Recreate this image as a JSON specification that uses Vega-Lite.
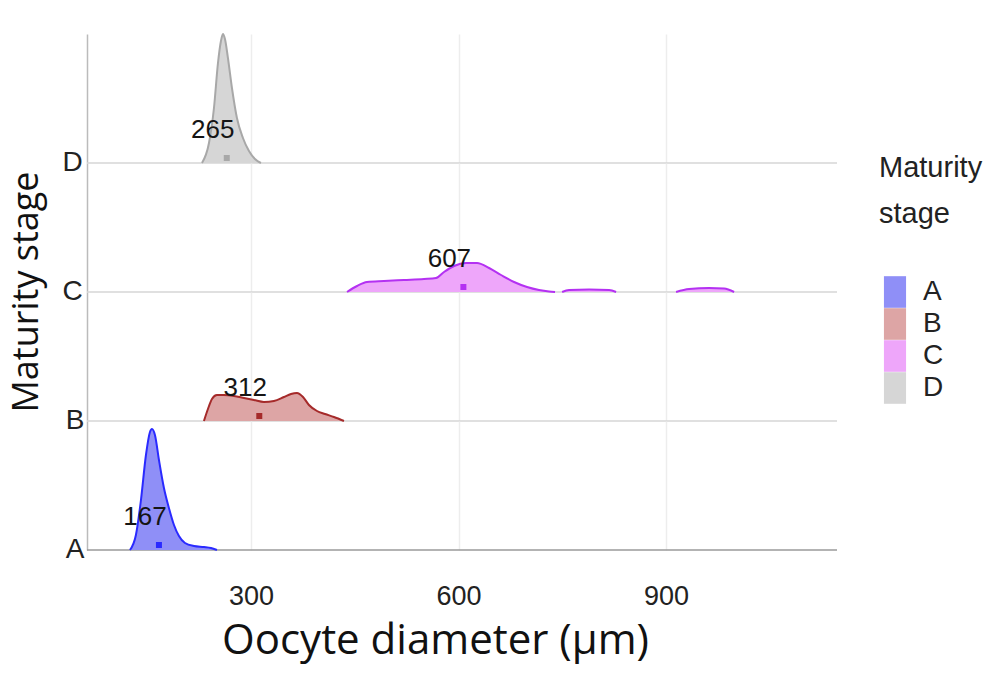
{
  "$schema": "https://vega.github.io/schema/vega-lite/v6.json",
  "padding": {"left": 8, "top": 30, "right": 5, "bottom": 5},
  "background": "white",
  "bounds": "flush",
  "datasets": {
    "all": [
      {"stage": "A", "seg": "A", "x": 125.1, "h": 0},
      {"stage": "A", "seg": "A", "x": 133.7, "h": 15},
      {"stage": "A", "seg": "A", "x": 141.0, "h": 50},
      {"stage": "A", "seg": "A", "x": 148.2, "h": 95},
      {"stage": "A", "seg": "A", "x": 154.0, "h": 118},
      {"stage": "A", "seg": "A", "x": 156.9, "h": 121},
      {"stage": "A", "seg": "A", "x": 161.2, "h": 115},
      {"stage": "A", "seg": "A", "x": 167.0, "h": 90},
      {"stage": "A", "seg": "A", "x": 174.2, "h": 62},
      {"stage": "A", "seg": "A", "x": 181.4, "h": 42},
      {"stage": "A", "seg": "A", "x": 188.7, "h": 25},
      {"stage": "A", "seg": "A", "x": 195.9, "h": 14},
      {"stage": "A", "seg": "A", "x": 204.6, "h": 7},
      {"stage": "A", "seg": "A", "x": 217.6, "h": 4},
      {"stage": "A", "seg": "A", "x": 232.0, "h": 3},
      {"stage": "A", "seg": "A", "x": 242.2, "h": 2},
      {"stage": "A", "seg": "A", "x": 250.8, "h": 0},
      {"stage": "B", "seg": "B", "x": 232.0, "h": 0},
      {"stage": "B", "seg": "B", "x": 237.8, "h": 12},
      {"stage": "B", "seg": "B", "x": 243.6, "h": 22},
      {"stage": "B", "seg": "B", "x": 250.8, "h": 26},
      {"stage": "B", "seg": "B", "x": 260.9, "h": 26},
      {"stage": "B", "seg": "B", "x": 275.4, "h": 25},
      {"stage": "B", "seg": "B", "x": 289.9, "h": 23},
      {"stage": "B", "seg": "B", "x": 304.3, "h": 21},
      {"stage": "B", "seg": "B", "x": 318.8, "h": 19},
      {"stage": "B", "seg": "B", "x": 333.2, "h": 20},
      {"stage": "B", "seg": "B", "x": 347.7, "h": 24},
      {"stage": "B", "seg": "B", "x": 357.8, "h": 27},
      {"stage": "B", "seg": "B", "x": 366.5, "h": 28},
      {"stage": "B", "seg": "B", "x": 375.2, "h": 24},
      {"stage": "B", "seg": "B", "x": 383.8, "h": 16},
      {"stage": "B", "seg": "B", "x": 395.4, "h": 10},
      {"stage": "B", "seg": "B", "x": 407.0, "h": 7},
      {"stage": "B", "seg": "B", "x": 419.9, "h": 4},
      {"stage": "B", "seg": "B", "x": 434.4, "h": 0},
      {"stage": "C", "seg": "C1", "x": 438.8, "h": 0},
      {"stage": "C", "seg": "C1", "x": 453.3, "h": 6},
      {"stage": "C", "seg": "C1", "x": 467.7, "h": 10},
      {"stage": "C", "seg": "C1", "x": 492.3, "h": 11},
      {"stage": "C", "seg": "C1", "x": 521.2, "h": 12},
      {"stage": "C", "seg": "C1", "x": 550.1, "h": 13},
      {"stage": "C", "seg": "C1", "x": 567.5, "h": 14},
      {"stage": "C", "seg": "C1", "x": 579.0, "h": 20},
      {"stage": "C", "seg": "C1", "x": 593.5, "h": 26},
      {"stage": "C", "seg": "C1", "x": 610.9, "h": 29},
      {"stage": "C", "seg": "C1", "x": 626.7, "h": 29},
      {"stage": "C", "seg": "C1", "x": 644.1, "h": 24},
      {"stage": "C", "seg": "C1", "x": 661.4, "h": 17},
      {"stage": "C", "seg": "C1", "x": 680.2, "h": 10},
      {"stage": "C", "seg": "C1", "x": 699.0, "h": 5},
      {"stage": "C", "seg": "C1", "x": 716.3, "h": 2},
      {"stage": "C", "seg": "C1", "x": 730.8, "h": 0.5},
      {"stage": "C", "seg": "C1", "x": 739.5, "h": 0},
      {"stage": "C", "seg": "C2", "x": 749.7, "h": 0},
      {"stage": "C", "seg": "C2", "x": 759.8, "h": 2},
      {"stage": "C", "seg": "C2", "x": 788.7, "h": 2.5},
      {"stage": "C", "seg": "C2", "x": 817.6, "h": 2},
      {"stage": "C", "seg": "C2", "x": 827.7, "h": 0},
      {"stage": "C", "seg": "C3", "x": 914.4, "h": 0},
      {"stage": "C", "seg": "C3", "x": 933.2, "h": 3},
      {"stage": "C", "seg": "C3", "x": 962.1, "h": 4},
      {"stage": "C", "seg": "C3", "x": 983.8, "h": 3.5},
      {"stage": "C", "seg": "C3", "x": 998.3, "h": 0},
      {"stage": "D", "seg": "D", "x": 229.2, "h": 0},
      {"stage": "D", "seg": "D", "x": 239.3, "h": 20},
      {"stage": "D", "seg": "D", "x": 246.5, "h": 55},
      {"stage": "D", "seg": "D", "x": 252.3, "h": 100},
      {"stage": "D", "seg": "D", "x": 256.6, "h": 122},
      {"stage": "D", "seg": "D", "x": 259.5, "h": 129},
      {"stage": "D", "seg": "D", "x": 262.4, "h": 124},
      {"stage": "D", "seg": "D", "x": 266.7, "h": 105},
      {"stage": "D", "seg": "D", "x": 272.5, "h": 75},
      {"stage": "D", "seg": "D", "x": 279.7, "h": 45},
      {"stage": "D", "seg": "D", "x": 288.4, "h": 25},
      {"stage": "D", "seg": "D", "x": 297.1, "h": 12},
      {"stage": "D", "seg": "D", "x": 305.8, "h": 4},
      {"stage": "D", "seg": "D", "x": 314.4, "h": 0},
      {"stage": "A", "median": 167, "label": "167"},
      {"stage": "B", "median": 312, "label": "312"},
      {"stage": "C", "median": 607, "label": "607"},
      {"stage": "D", "median": 265, "label": "265"}
    ]
  },
  "data": {"name": "all"},
  "facet": {
    "row": {
      "field": "stage",
      "type": "nominal",
      "sort": "descending",
      "title": "Maturity stage",
      "header": {
        "labelAngle": 0,
        "labelOrient": "left",
        "labelAnchor": "start",
        "labelAlign": "right",
        "labelBaseline": "middle",
        "labelFont": "Liberation Sans",
        "labelFontSize": 28,
        "labelColor": "#222",
        "labelPadding": -16,
        "titleFont": "Open Sans",
        "titleFontSize": 36,
        "titleFontWeight": "normal",
        "titleColor": "#111",
        "titlePadding": 6
      }
    }
  },
  "spacing": 0,
  "spec": {
    "width": 750,
    "height": 129,
    "layer": [
      {
        "transform": [{"filter": "datum.median != null"}],
        "mark": {"type": "rule", "strokeWidth": 1.5},
        "encoding": {
          "y": {"datum": 0},
          "color": {"condition": {"test": "datum.stage == 'A'", "value": "#9a9a9a"}, "value": "#d6d6d6"}
        }
      },
      {
        "transform": [{"filter": "datum.h != null"}],
        "mark": {"type": "area", "interpolate": "monotone"},
        "encoding": {
          "x": {
            "field": "x",
            "type": "quantitative",
            "scale": {"domain": [63, 1147], "nice": false, "zero": false},
            "axis": {
              "values": [300, 600, 900],
              "ticks": false,
              "grid": true,
              "gridColor": "#ededed",
              "gridWidth": 1.5,
              "domain": false,
              "labelFont": "Liberation Sans",
              "labelFontSize": 27,
              "labelColor": "#222",
              "labelPadding": 33,
              "title": "Oocyte diameter (µm)",
              "titleFont": "Open Sans",
              "titleFontSize": 42,
              "titleFontWeight": "normal",
              "titleColor": "#111",
              "titlePadding": 11,
              "titleX": 348
            }
          },
          "y": {
            "field": "h",
            "type": "quantitative",
            "scale": {"domain": [0, 129], "nice": false},
            "axis": {"labels": false, "ticks": false, "grid": false, "title": null, "domainColor": "#bbbbbb", "domainWidth": 1.5, "minExtent": 0, "maxExtent": 0, "labelPadding": 0, "tickSize": 0}
          },
          "fill": {
            "field": "stage",
            "type": "nominal",
            "scale": {"domain": ["A", "B", "C", "D"], "range": ["#8f8ff7", "#dda5a5", "#eea6fa", "#d6d6d6"]},
            "legend": {
              "title": ["Maturity", "stage"],
              "orient": "none",
              "legendX": 792,
              "legendY": 120
            }
          },
          "detail": {"field": "seg"}
        }
      },
      {
        "transform": [{"filter": "datum.h != null"}],
        "mark": {"type": "line", "interpolate": "monotone", "strokeWidth": 2},
        "encoding": {
          "x": {"field": "x", "type": "quantitative"},
          "y": {"field": "h", "type": "quantitative"},
          "stroke": {
            "field": "stage",
            "type": "nominal",
            "scale": {"domain": ["A", "B", "C", "D"], "range": ["#2a2aff", "#a52a2a", "#b431f2", "#a8a8a8"]},
            "legend": null
          },
          "detail": {"field": "seg"}
        }
      },
      {
        "transform": [{"filter": "datum.median != null"}],
        "mark": {"type": "square", "size": 9, "strokeWidth": 3, "fillOpacity": 0},
        "encoding": {
          "x": {"field": "median", "type": "quantitative"},
          "y": {"datum": 5},
          "stroke": {"field": "stage", "type": "nominal", "legend": null}
        }
      },
      {
        "transform": [{"filter": "datum.median != null"}],
        "mark": {"type": "text", "dx": -14, "font": "Liberation Sans", "fontSize": 26, "color": "#151515", "baseline": "middle"},
        "encoding": {
          "x": {"field": "median", "type": "quantitative"},
          "y": {"datum": 33},
          "text": {"field": "label"}
        }
      }
    ]
  },
  "config": {
    "view": {"stroke": null},
    "legend": {
      "titleFont": "Liberation Sans",
      "titleFontSize": 29,
      "titleFontWeight": "normal",
      "titleColor": "#222",
      "titleLineHeight": 46,
      "titlePadding": 47,
      "labelFont": "Liberation Sans",
      "labelFontSize": 28,
      "labelColor": "#222",
      "labelOffset": 12,
      "symbolType": "M-0.7,-1H0.7V1H-0.7Z",
      "symbolSize": 1000,
      "symbolStrokeWidth": 0,
      "rowPadding": 0
    }
  }
}
